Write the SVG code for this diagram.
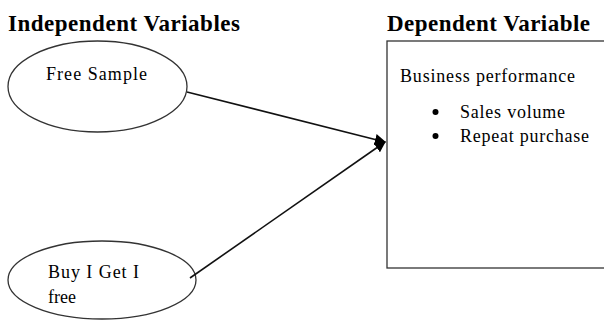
<svg xmlns="http://www.w3.org/2000/svg" width="604" height="320" viewBox="0 0 604 320">
<defs>
<style>
text{font-family:'Liberation Serif','Times New Roman',serif;fill:#000}
.title{font-weight:bold;font-size:23px}
.lbl{font-size:18px}
.shape{fill:#fff;stroke:#333;stroke-width:1.3}
.conn{stroke:#111;stroke-width:1.6;fill:none}
</style>
<marker id="arr" viewBox="0 0 10 10" refX="9" refY="5" markerWidth="7" markerHeight="7" orient="auto" markerUnits="strokeWidth">
<path d="M0,0 L10,5 L0,10 z" fill="#000"/>
</marker>
</defs>
<rect width="604" height="320" fill="#fff"/>
<text class="title" x="8" y="31" textLength="232" lengthAdjust="spacing">Independent Variables</text>
<text class="title" x="387" y="31" textLength="203" lengthAdjust="spacing">Dependent Variable</text>
<g id="free-sample">
<ellipse class="shape" cx="97.5" cy="86.5" rx="89.5" ry="45.5"/>
<text class="lbl" x="46" y="80" textLength="101" lengthAdjust="spacing">Free Sample</text>
</g>
<g id="buy-get-free">
<ellipse class="shape" cx="102" cy="280" rx="94" ry="39"/>
<text class="lbl" x="48" y="278" textLength="91" lengthAdjust="spacing">Buy I Get I</text>
<text class="lbl" x="48" y="303">free</text>
</g>
<g id="business-performance">
<rect class="shape" x="387" y="41" width="230" height="227"/>
<text class="lbl" x="400" y="82" textLength="175" lengthAdjust="spacing">Business performance</text>
<circle cx="435.5" cy="112" r="3" fill="#000"/>
<circle cx="435.5" cy="136" r="3" fill="#000"/>
<text class="lbl" x="460" y="118" textLength="105" lengthAdjust="spacing">Sales volume</text>
<text class="lbl" x="460" y="142" textLength="129" lengthAdjust="spacing">Repeat purchase</text>
</g>
<g id="connectors">
<line class="conn" x1="187" y1="92" x2="385" y2="142" marker-end="url(#arr)"/>
<line class="conn" x1="190" y1="278" x2="385" y2="142" marker-end="url(#arr)"/>
</g>
</svg>
